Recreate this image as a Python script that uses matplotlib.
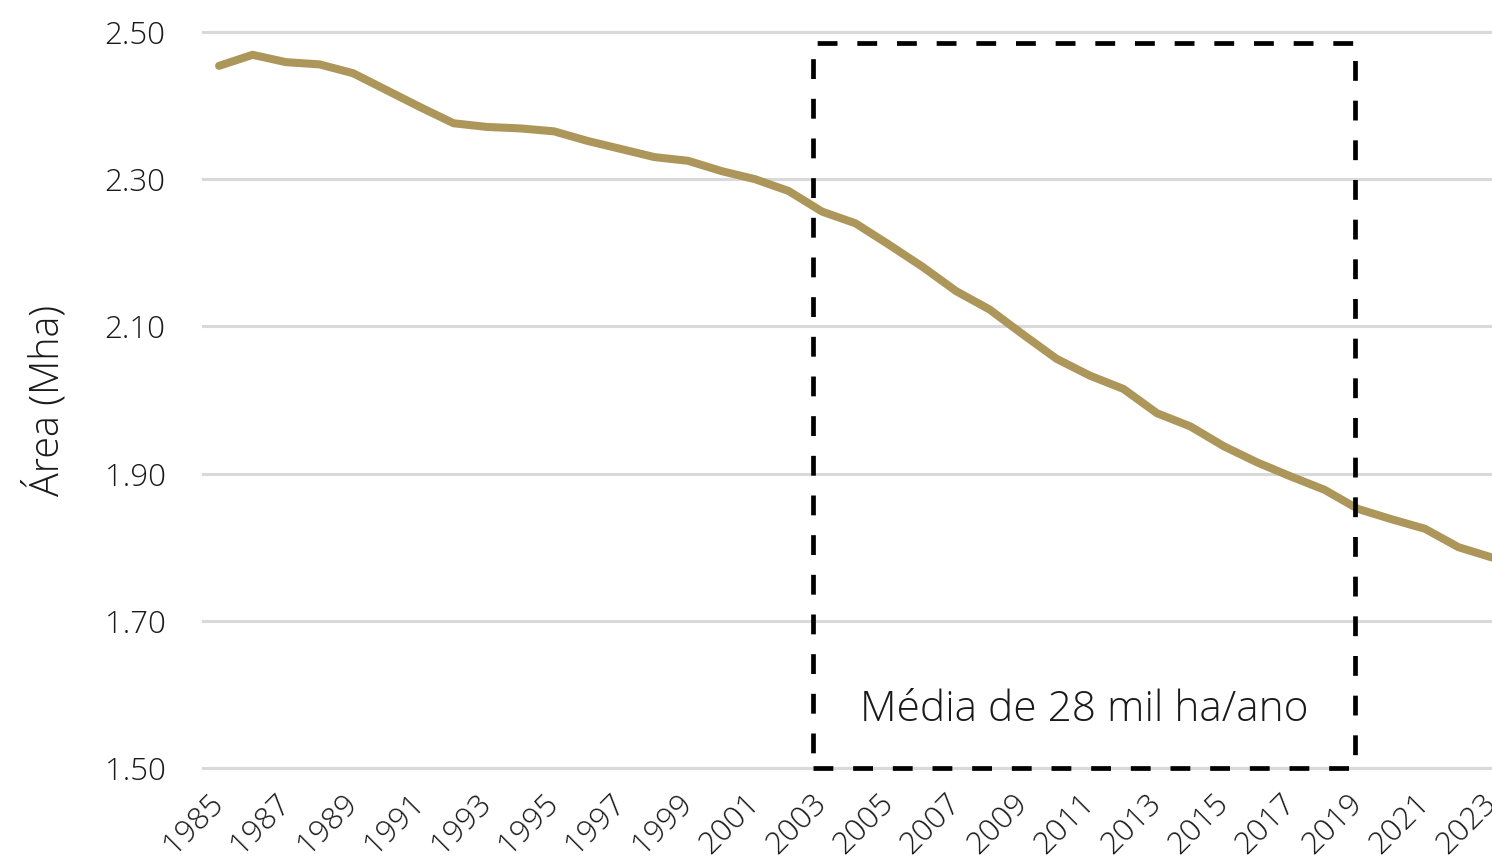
import matplotlib
matplotlib.use("Agg")
import matplotlib.pyplot as plt
from matplotlib.patches import Rectangle

plt.rcParams["font.family"] = ["Open Sans", "DejaVu Sans"]

YEARS = list(range(1985, 2024))
AREA = [
    2.454, 2.469, 2.459, 2.456, 2.444, 2.421, 2.398, 2.376, 2.371, 2.369,
    2.365, 2.352, 2.341, 2.330, 2.325, 2.311, 2.300, 2.284, 2.256, 2.240,
    2.211, 2.181, 2.148, 2.123, 2.089, 2.056, 2.033, 2.015, 1.982, 1.964,
    1.937, 1.915, 1.896, 1.878, 1.852, 1.838, 1.825, 1.800, 1.786,
]
Y_TICKS = [1.50, 1.70, 1.90, 2.10, 2.30, 2.50]
X_TICKS = list(range(1985, 2024, 2))
BOX_START, BOX_END, BOX_TOP = 2002.74, 2018.9, 2.485
NOTE = "Média de 28 mil ha/ano"

LINE_COLOR = "#ad965a"
GRID_COLOR = "#d9d9d9"
TEXT_COLOR = "#1a1a1a"

fig = plt.figure(figsize=(14.92, 8.63), dpi=100)
ax = fig.add_axes([203 / 1492, 1 - 768 / 863, 1 - 203 / 1492, (768 - 32) / 863])

ax.plot(YEARS, AREA, color=LINE_COLOR, lw=5.8, solid_capstyle="round",
        solid_joinstyle="round", zorder=3)

ax.set_xlim(1984.52, 2023)
ax.set_ylim(1.50, 2.50)
ax.set_yticks(Y_TICKS)
ax.set_yticklabels([f"{v:.2f}" for v in Y_TICKS], fontweight="light")
ax.set_xticks(X_TICKS)
ax.set_xticklabels([str(y) for y in X_TICKS], rotation=45, ha="right",
                   va="center", rotation_mode="anchor", fontweight="light")

for y in Y_TICKS:
    ax.axhline(y, color=GRID_COLOR, lw=2.2, zorder=1, clip_on=False)

for side in ["top", "right", "left", "bottom"]:
    ax.spines[side].set_visible(False)
ax.tick_params(axis="both", length=0, labelsize=22.5, colors=TEXT_COLOR)
ax.tick_params(axis="y", pad=27)
ax.tick_params(axis="x", pad=22)
ax.set_ylabel("Área (Mha)", fontsize=28.5, color=TEXT_COLOR, fontweight="light")
ax.yaxis.set_label_coords(-0.104, 0.5)

box = Rectangle((BOX_START, 1.50), BOX_END - BOX_START, BOX_TOP - 1.50,
                fill=False, edgecolor="black", lw=3.4,
                linestyle=(0, (4.2, 4.2)), zorder=4, clip_on=False)
ax.add_patch(box)
ax.text((BOX_START + BOX_END) / 2, 1.579, NOTE, ha="center",
        va="center", fontsize=30.5, color=TEXT_COLOR, fontweight="light",
        zorder=5)

fig.savefig("out.png", dpi=100)
